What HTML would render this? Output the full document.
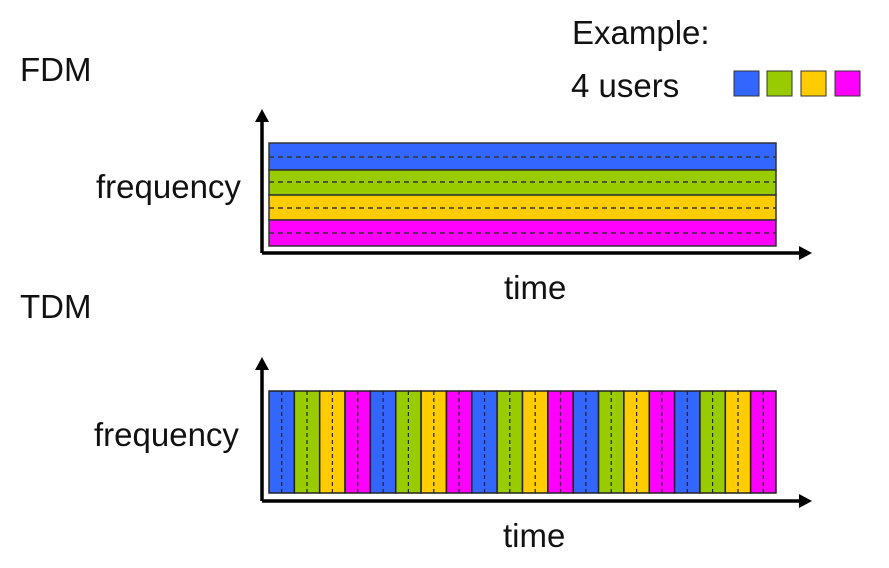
<!DOCTYPE html>
<html><head><style>body{margin:0;background:#fff}</style></head><body>
<svg width="889" height="563" xmlns="http://www.w3.org/2000/svg" font-family="Liberation Sans, sans-serif" font-size="33">
<text x="572" y="44" fill="#111">Example:</text>
<text x="571" y="97" fill="#111">4 users</text>
<text x="20" y="81" fill="#111">FDM</text>
<text x="20" y="318" fill="#111">TDM</text>
<text x="96" y="198" fill="#111">frequency</text>
<text x="94" y="446" fill="#111">frequency</text>
<text x="504" y="299" fill="#111">time</text>
<text x="503" y="547" fill="#111">time</text>
<g stroke="#333" stroke-width="1">
<rect x="734" y="71" width="25" height="25" fill="#3366ff"/>
<rect x="767" y="71" width="25" height="25" fill="#99cc00"/>
<rect x="801" y="71" width="25" height="25" fill="#ffcc00"/>
<rect x="835" y="71" width="25" height="25" fill="#ff00ff"/>
</g>
<g stroke="#333" stroke-width="1.5">
<rect x="269" y="143" width="507" height="27" fill="#3366ff"/>
<rect x="269" y="170" width="507" height="25" fill="#99cc00"/>
<rect x="269" y="195" width="507" height="25" fill="#ffcc00"/>
<rect x="269" y="220" width="507" height="26" fill="#ff00ff"/>
</g>
<g stroke="#333" stroke-width="1.5" stroke-dasharray="5,4">
<line x1="269" y1="157" x2="776" y2="157"/>
<line x1="269" y1="182" x2="776" y2="182"/>
<line x1="269" y1="208" x2="776" y2="208"/>
<line x1="269" y1="233" x2="776" y2="233"/>
</g>
<g stroke="#222" stroke-width="1.5">
<rect x="269.0" y="391" width="25.35" height="102" fill="#3366ff"/><rect x="294.35" y="391" width="25.35" height="102" fill="#99cc00"/><rect x="319.7" y="391" width="25.35" height="102" fill="#ffcc00"/><rect x="345.05" y="391" width="25.35" height="102" fill="#ff00ff"/>
<rect x="370.4" y="391" width="25.35" height="102" fill="#3366ff"/><rect x="395.75" y="391" width="25.35" height="102" fill="#99cc00"/><rect x="421.1" y="391" width="25.35" height="102" fill="#ffcc00"/><rect x="446.45" y="391" width="25.35" height="102" fill="#ff00ff"/>
<rect x="471.8" y="391" width="25.35" height="102" fill="#3366ff"/><rect x="497.15" y="391" width="25.35" height="102" fill="#99cc00"/><rect x="522.5" y="391" width="25.35" height="102" fill="#ffcc00"/><rect x="547.85" y="391" width="25.35" height="102" fill="#ff00ff"/>
<rect x="573.2" y="391" width="25.35" height="102" fill="#3366ff"/><rect x="598.55" y="391" width="25.35" height="102" fill="#99cc00"/><rect x="623.9" y="391" width="25.35" height="102" fill="#ffcc00"/><rect x="649.25" y="391" width="25.35" height="102" fill="#ff00ff"/>
<rect x="674.6" y="391" width="25.35" height="102" fill="#3366ff"/><rect x="699.95" y="391" width="25.35" height="102" fill="#99cc00"/><rect x="725.3" y="391" width="25.35" height="102" fill="#ffcc00"/><rect x="750.65" y="391" width="25.35" height="102" fill="#ff00ff"/>
</g>
<g stroke="#222" stroke-width="1.2" stroke-dasharray="4,3">
<path d="M281.7 391V493M307 391V493M332.4 391V493M357.7 391V493M383.1 391V493M408.4 391V493M433.8 391V493M459.1 391V493M484.5 391V493M509.8 391V493M535.2 391V493M560.5 391V493M585.9 391V493M611.2 391V493M636.6 391V493M661.9 391V493M687.3 391V493M712.6 391V493M738 391V493M763.3 391V493"/>
</g>
<g stroke="#000" stroke-width="3.5" fill="none">
<path d="M262 253V120M262 253H800M262 501V368M262 501H800"/>
</g>
<g fill="#000">
<path d="M262 109L255 122H269z"/>
<path d="M812 253L799 246V260z"/>
<path d="M262 357L255 370H269z"/>
<path d="M812 501L799 494V508z"/>
</g>
</svg>
</body></html>
